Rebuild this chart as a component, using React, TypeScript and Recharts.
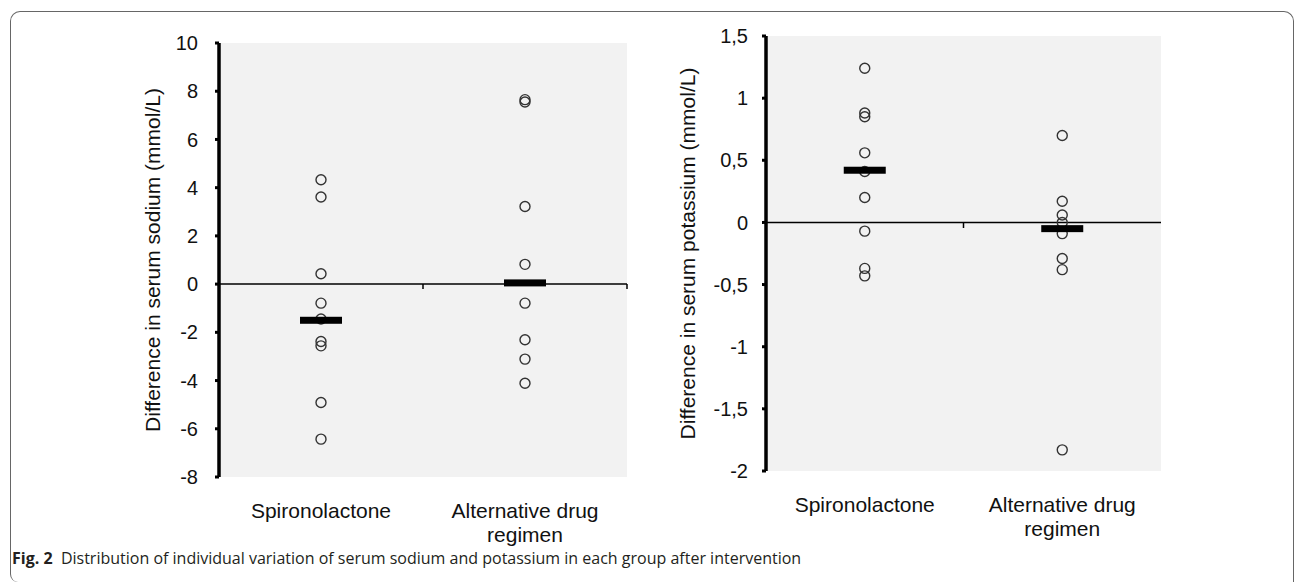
import React from 'react';
import { ScatterChart, Scatter, XAxis, YAxis, CartesianGrid, ReferenceLine } from 'recharts';

// group names, split over lines as on the x axis
const groups = ['Spironolactone', 'Alternative drug regimen'];
const groupLines = [['Spironolactone'], ['Alternative drug', 'regimen']];

// change in serum sodium (mmol/L)
const sodiumSpironolactone = [4.33, 3.61, 0.43, -0.79, -1.45, -2.38, -2.56, -4.91, -6.43];
const sodiumAlternative = [7.65, 7.55, 3.22, 0.82, -0.79, -2.31, -3.11, -4.11];
const sodiumMedians = [-1.5, 0.05];
const sodiumTicks = [-8, -6, -4, -2, 0, 2, 4, 6, 8, 10];

// change in serum potassium (mmol/L)
const potassiumSpironolactone = [1.24, 0.88, 0.85, 0.56, 0.41, 0.2, -0.07, -0.37, -0.43];
const potassiumAlternative = [0.7, 0.17, 0.06, 0, -0.09, -0.29, -0.38, -1.83];
const potassiumMedians = [0.42, -0.05];
const potassiumTicks = [-2, -1.5, -1, -0.5, 0, 0.5, 1, 1.5];

const FONT = '"Liberation Sans", Arial, sans-serif';

const toPoints = (vals: number[], x: number) => vals.map((y) => ({ x, y }));

const GroupTick = ({ x, y, payload }: any) => {
  const lines = groupLines[payload.value - 1] || [groups[payload.value - 1]];
  return (
    <g>
      {lines.map((line, i) => (
        <text key={i} x={x} y={y + 34 + i * 24} dy="0.355em" textAnchor="middle"
          fontFamily={FONT} fontSize={21} fill="#111">
          {line}
        </text>
      ))}
    </g>
  );
};

const Circle = (p: any) => (
  <circle cx={p.cx} cy={p.cy} r={5} fill="none" stroke="#333" strokeWidth={1.4} />
);

const MedianBar = (p: any) => (
  <rect x={p.cx - 21} y={p.cy - 3.5} width={42} height={7} fill="#000" />
);

function Panel({ left, width, height, margin, domain, ticks, spiro, alt, medians, title, titleX, tickGap, tickLen, endTick }: any) {
  const medianPoints = medians.map((y: number, i: number) => ({ x: i + 1, y }));
  return (
    <div style={{ position: 'absolute', left, top: 0 }}>
      <ScatterChart width={width} height={height} margin={margin}>
        <CartesianGrid horizontal={false} vertical={false} fill="#f2f2f2" stroke="none" />
        <XAxis type="number" dataKey="x" domain={[0.5, 2.5]} ticks={[1, 2]} interval={0}
          axisLine={false} tickLine={false} tickSize={0} tickMargin={0} height={70}
          tick={<GroupTick />} />
        <YAxis type="number" dataKey="y" domain={domain} ticks={ticks} interval={0} width={80}
          axisLine={{ stroke: '#000', strokeWidth: 3.5 }}
          tickLine={{ stroke: '#000', strokeWidth: 3 }} tickSize={4} tickMargin={tickGap}
          tick={{ fontFamily: FONT, fontSize: 20, fill: '#111' }}
          tickFormatter={(v: number) => String(v).replace('.', ',')}
          label={{
            content: ({ viewBox }: any) => {
              const cx = viewBox.x + titleX;
              const cy = viewBox.y + viewBox.height / 2;
              return (
                <text x={cx} y={cy} transform={`rotate(-90, ${cx}, ${cy})`} textAnchor="middle"
                  dy="0.355em" fontFamily={FONT} fontSize={21} fill="#111">
                  {title}
                </text>
              );
            },
          }} />
        <ReferenceLine y={0} stroke="#000" strokeWidth={1.5} />
        <ReferenceLine segment={[{ x: 1.5, y: 0 }, { x: 1.5, y: -tickLen }]} stroke="#000" strokeWidth={1.5} />
        {endTick && (
          <ReferenceLine segment={[{ x: 2.5, y: 0 }, { x: 2.5, y: -tickLen }]} stroke="#000" strokeWidth={1.5} />
        )}
        <Scatter data={toPoints(spiro, 1)} shape={Circle} isAnimationActive={false} />
        <Scatter data={toPoints(alt, 2)} shape={Circle} isAnimationActive={false} />
        <Scatter data={medianPoints} shape={MedianBar} isAnimationActive={false} />
      </ScatterChart>
    </div>
  );
}

export default function App() {
  return (
    <div style={{ position: 'absolute', left: 0, top: 0, width: 1295, height: 583, background: '#fff', overflow: 'hidden' }}>
      <div style={{
        position: 'absolute', left: 10, top: 11, width: 1282, height: 570,
        border: '1.5px solid #666', borderBottom: 'none', borderRadius: '10px 10px 0 8px',
      }} />
      <Panel left={0} width={640} height={560}
        margin={{ top: 43, right: 13, bottom: 13, left: 139 }}
        domain={[-8, 10]} ticks={sodiumTicks}
        spiro={sodiumSpironolactone} alt={sodiumAlternative} medians={sodiumMedians}
        title="Difference in serum sodium (mmol/L)" titleX={13.5} tickGap={17} tickLen={0.2} endTick />
      <Panel left={640} width={540} height={560}
        margin={{ top: 36, right: 19, bottom: 19, left: 46 }}
        domain={[-2, 1.5]} ticks={potassiumTicks}
        spiro={potassiumSpironolactone} alt={potassiumAlternative} medians={potassiumMedians}
        title="Difference in serum potassium (mmol/L)" titleX={2} tickGap={14} tickLen={0.045} endTick={false} />
      <div style={{
        position: 'absolute', left: 12, top: 547, fontFamily: '"Open Sans", "Noto Sans", sans-serif',
        fontSize: 16, color: '#231f20', whiteSpace: 'nowrap', lineHeight: '22px',
      }}>
        <b>Fig. 2</b>&nbsp;&nbsp;Distribution of individual variation of serum sodium and potassium in each group after intervention
      </div>
    </div>
  );
}
